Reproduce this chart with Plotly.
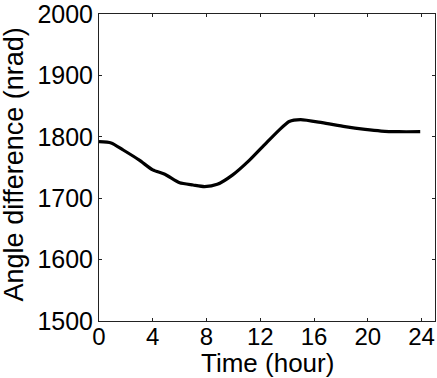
import plotly.graph_objects as go

time_hour = [0.0, 0.9, 1.8, 3.0, 4.0, 4.9, 6.0, 7.0, 7.85, 8.8, 9.95, 11.2, 12.4, 13.4, 14.15, 15.0, 16.6, 18.3, 19.8, 21.0, 22.3, 23.9]
angle_nrad = [1792, 1790, 1778.5, 1762, 1746, 1739, 1725, 1721.5, 1719, 1722.6, 1738, 1762, 1789, 1811, 1825, 1828, 1823, 1816.5, 1812, 1809.4, 1808.3, 1808.3]
x_ticks = [0, 4, 8, 12, 16, 20, 24]
y_ticks = [1500, 1600, 1700, 1800, 1900, 2000]
x_title = "Time (hour)"
y_title = "Angle difference (nrad)"

fig = go.Figure()
fig.add_trace(go.Scatter(x=time_hour, y=angle_nrad, mode="lines",
                         line=dict(color="black", width=3.2, shape="spline", smoothing=0.6),
                         showlegend=False))

font = "Liberation Sans, Arial, sans-serif"
axis_common = dict(showgrid=False, zeroline=False, showline=True, linecolor="#222",
                   linewidth=1, mirror="ticks", ticks="inside", ticklen=3,
                   tickcolor="#222", ticklabeloverflow="allow",
                   tickfont=dict(family=font, size=25, color="black"), automargin=False)

fig.update_xaxes(range=[0, 25], tickvals=x_ticks, ticktext=[str(v) for v in x_ticks],
                 ticklabelstandoff=-6, **axis_common)
fig.update_xaxes(tickfont_size=24)
fig.update_yaxes(range=[1500, 2000], tickvals=y_ticks, ticktext=[str(v) for v in y_ticks], **axis_common)

fig.add_annotation(text=x_title, xref="paper", yref="paper", x=0.5, y=-0.136,
                   xanchor="center", yanchor="middle", showarrow=False,
                   font=dict(family=font, size=26, color="black"))
fig.add_annotation(text=y_title, xref="paper", yref="paper", x=-0.253, y=0.51,
                   xanchor="center", yanchor="middle", textangle=-90, showarrow=False,
                   font=dict(family=font, size=27, color="black"))

fig.update_layout(width=437, height=378, margin=dict(l=99, r=2, t=14, b=57, autoexpand=False),
                  plot_bgcolor="white", paper_bgcolor="white")
fig.write_html("out.html", config={"displayModeBar": False},
               post_script="document.body.style.margin='0';document.body.style.overflow='hidden';")
